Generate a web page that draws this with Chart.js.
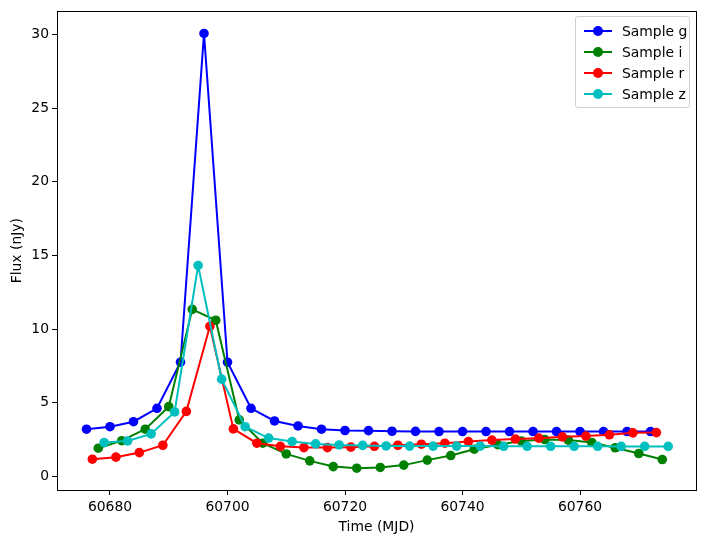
<!DOCTYPE html>
<html>
<head>
<meta charset="utf-8">
<script src="https://cdn.jsdelivr.net/npm/chart.js@4/dist/chart.umd.min.js"></script>
<style>
  body { margin: 0; background: #fff; }
  #wrap { position: relative; width: 706px; height: 543px; }
  #legend {
    position: absolute; left: 575px; top: 16px; width: 113px;
    border: 1px solid #d0d0d0; border-radius: 3px; background: rgba(255,255,255,0.8);
    font: 13.9px "DejaVu Sans", sans-serif; padding: 3px 0 3px 0;
  }
  .row { display: flex; align-items: center; height: 21px; }
  .sw { position: relative; width: 28px; height: 10px; margin-left: 8px; margin-right: 10px; }
  .sw .ln { position: absolute; left: 0; right: 0; top: 4px; height: 2px; }
  .sw .dot { position: absolute; left: 9px; top: 0px; width: 10px; height: 10px; border-radius: 50%; }
</style>
</head>
<body>
<div id="wrap">
  <canvas id="chartID" width="706" height="543"></canvas>
  <div id="legend"></div>
</div>
<script>
// light curve samples, time in MJD, flux in nJy
const gTime = [60676, 60680, 60684, 60688, 60692, 60696, 60700, 60704, 60708, 60712, 60716, 60720, 60724, 60728, 60732, 60736, 60740, 60744, 60748, 60752, 60756, 60760, 60764, 60768, 60772]
const gFlux = [3.2, 3.37, 3.71, 4.62, 7.75, 30.08, 7.75, 4.62, 3.76, 3.42, 3.2, 3.11, 3.1, 3.06, 3.05, 3.04, 3.04, 3.04, 3.04, 3.04, 3.04, 3.04, 3.04, 3.04, 3.04]

const iTime = [60678, 60682, 60686, 60690, 60694, 60698, 60702, 60706, 60710, 60714, 60718, 60722, 60726, 60730, 60734, 60738, 60742, 60746, 60750, 60754, 60758, 60762, 60766, 60770, 60774]
const iFlux = [1.91, 2.42, 3.2, 4.73, 11.34, 10.6, 3.83, 2.25, 1.52, 1.05, 0.66, 0.55, 0.6, 0.76, 1.1, 1.41, 1.84, 2.15, 2.4, 2.5, 2.46, 2.3, 1.94, 1.55, 1.14]

const rTime = [60677, 60681, 60685, 60689, 60693, 60697, 60701, 60705, 60709, 60713, 60717, 60721, 60725, 60729, 60733, 60737, 60741, 60745, 60749, 60753, 60757, 60761, 60765, 60769, 60773]
const rFlux = [1.16, 1.3, 1.61, 2.11, 4.41, 10.19, 3.22, 2.25, 2.04, 1.95, 1.95, 1.98, 2.04, 2.11, 2.18, 2.25, 2.36, 2.46, 2.53, 2.59, 2.68, 2.73, 2.82, 2.95, 2.97]

const zTime = [60679, 60683, 60687, 60691, 60695, 60699, 60703, 60707, 60711, 60715, 60719, 60723, 60727, 60731, 60735, 60739, 60743, 60747, 60751, 60755, 60759, 60763, 60767, 60771, 60775]
const zFlux = [2.29, 2.4, 2.88, 4.37, 14.32, 6.6, 3.37, 2.6, 2.36, 2.2, 2.13, 2.1, 2.06, 2.05, 2.05, 2.05, 2.05, 2.04, 2.04, 2.04, 2.04, 2.04, 2.03, 2.03, 2.03]

const seriesNames = ['Sample g', 'Sample i', 'Sample r', 'Sample z']
const seriesColors = ['#0000ff', '#008000', '#ff0000', '#00bfbf']
const xTicks = [60680, 60700, 60720, 60740, 60760]
const yTicks = [0, 5, 10, 15, 20, 25, 30]

const font = { family: 'DejaVu Sans', size: 13.9 }

function pts(t, f) {
	return t.map(function(x, i) { return { x: x, y: f[i] } })
}

const allData = [pts(gTime, gFlux), pts(iTime, iFlux), pts(rTime, rFlux), pts(zTime, zFlux)]

const datasets = allData.map(function(d, k) {
	return {
		label: seriesNames[k],
		data: d,
		borderColor: seriesColors[k],
		backgroundColor: seriesColors[k],
		pointBackgroundColor: seriesColors[k],
		pointBorderColor: seriesColors[k],
		borderWidth: 2,
		pointRadius: 4.8,
		pointBorderWidth: 0,
		tension: 0,
		order: 4 - k, // later series on top, like matplotlib
	}
})

// full box round the plot
const frame = {
	id: 'frame',
	afterDraw: function(chart) {
		const a = chart.chartArea
		const ctx = chart.ctx
		ctx.save()
		ctx.strokeStyle = '#000'
		ctx.lineWidth = 1
		ctx.strokeRect(Math.round(a.left) + 0.5, Math.round(a.top) + 0.5, Math.round(a.right - a.left), Math.round(a.bottom - a.top))
		ctx.restore()
	}
}

Chart.defaults.font.family = font.family
Chart.defaults.color = '#000'

const chart = new Chart(document.getElementById('chartID').getContext('2d'), {
	type: 'line',
	data: { datasets: datasets },
	plugins: [frame],
	options: {
		responsive: false,
		animation: false,
		layout: { padding: { top: 10, right: 10, left: 0, bottom: 0 } },
		plugins: { legend: { display: false }, tooltip: { enabled: false } },
		scales: {
			x: {
				type: 'linear',
				min: 60670.98,
				max: 60779.74,
				afterFit: function(s) { s.height = 53 },
				afterBuildTicks: function(s) { s.ticks = xTicks.map(function(v) { return { value: v } }) },
				ticks: { font: font, padding: 4, maxRotation: 0, callback: function(v) { return String(v) } },
				grid: { drawOnChartArea: false, drawTicks: true, tickLength: 5, color: '#000' },
				border: { display: false },
				title: { display: true, text: 'Time (MJD)', font: font, padding: { top: 0, bottom: 7 } },
			},
			y: {
				type: 'linear',
				min: -0.93,
				max: 31.58,
				afterFit: function(s) { s.width = 57 },
				afterBuildTicks: function(s) { s.ticks = yTicks.map(function(v) { return { value: v } }) },
				ticks: { font: font, padding: 3, callback: function(v) { return String(v) } },
				grid: { drawOnChartArea: false, drawTicks: true, tickLength: 5, color: '#000' },
				border: { display: false },
				title: { display: true, text: 'Flux (nJy)', font: font, padding: { top: 9, bottom: 0 } },
			},
		},
	},
})

// legend in the upper right, like matplotlib's
const legend = document.getElementById('legend')
seriesNames.forEach(function(name, k) {
	const row = document.createElement('div')
	row.className = 'row'
	row.innerHTML = '<div class="sw"><div class="ln" style="background:' + seriesColors[k] + '"></div>' +
		'<div class="dot" style="background:' + seriesColors[k] + '"></div></div><span>' + name + '</span>'
	legend.appendChild(row)
})
</script>
</body>
</html>
